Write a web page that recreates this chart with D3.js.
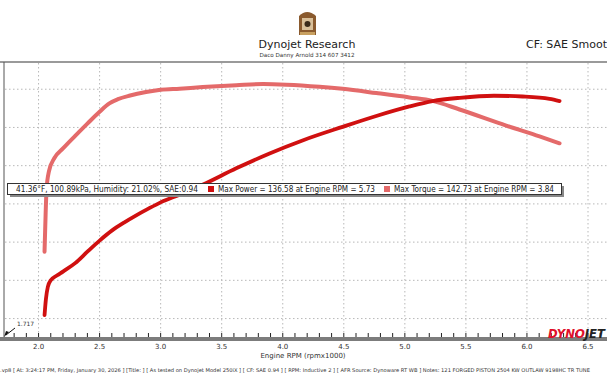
<!DOCTYPE html>
<html><head><meta charset="utf-8">
<script src="https://cdn.jsdelivr.net/npm/d3@7"></script>
<style>html,body{margin:0;padding:0;background:#fff;overflow:hidden}svg{display:block}text{font-family:Tahoma,"DejaVu Sans",sans-serif}</style>
</head><body>
<svg id="c" width="607" height="380"></svg>
<script>
// ---- data (rpm x1000) ----
const powerRpm = [2.049,2.06,2.076,2.1,2.15,2.2,2.3,2.4,2.5,2.6,2.7,2.8,2.9,3.0,3.155,3.343,3.619,3.892,4.162,4.49,4.766,5.038,5.227,5.448,5.73,5.964,6.185,6.267];
const powerHp  = [21.8,30.0,36.6,40.0,42.5,44.6,49.0,55.0,60.8,66.0,70.2,74.0,77.5,80.8,84.8,90.0,98.6,106.4,113.2,120.3,126.0,131.0,133.8,135.5,136.58,136.2,135.0,133.8];
const torqueRpm = [2.049,2.058,2.066,2.085,2.13,2.2,2.3,2.4,2.5,2.58,2.65,2.75,2.88,3.0,3.155,3.343,3.619,3.84,4.029,4.301,4.49,4.766,5.038,5.227,5.448,5.83,6.103,6.267];
const torqueFt  = [55.0,75.0,88.0,97.0,104.0,109.0,115.6,122.0,128.2,132.6,134.8,136.7,138.5,139.7,140.3,141.1,142.1,142.73,142.4,141.3,140.2,138.0,135.7,133.9,129.4,121.0,115.3,111.7];
const xTicks = [2.0,2.5,3.0,3.5,4.0,4.5,5.0,5.5,6.0,6.5];
const yGrid = [20,40,60,80,100,120,140];
const legendTexts = ["41.36°F, 100.89kPa, Humidity: 21.02%, SAE:0.94","Max Power = 136.58 at Engine RPM = 5.73","Max Torque = 142.73 at Engine RPM = 3.84"];
const footerText = ".vp8 [ At: 3:24:17 PM, Friday, January 30, 2026 ] [Title: ]  [ As tested on Dynojet Model 250iX ] [ CF: SAE 0.94 ] [ RPM: Inductive 2 ] [ AFR Source: Dynoware RT WB ] Notes: 121 FORGED PISTON 2504 KW OUTLAW 9198HC TR TUNE";

const svg = d3.select("#c");
const x = d3.scaleLinear().domain([1.717, 6.5]).range([4, 588]);
const y = d3.scaleLinear().domain([11.4, 154.4]).range([335, 61.7]);
const powerColor = "#d01010", torqueColor = "#e46a6a";

// header
const logo = svg.append("g");
logo.append("path").attr("d","M299,16 Q307,8 316,16 L316,35 L299,35 Z").attr("fill","#8a5a2e");
logo.append("rect").attr("x",302).attr("y",18).attr("width",11).attr("height",12).attr("fill","#d9c09a");
logo.append("circle").attr("cx",307.5).attr("cy",24).attr("r",3).attr("fill","#3a2a1a");
logo.append("rect").attr("x",300).attr("y",32).attr("width",15).attr("height",3).attr("fill","#c8a060");
svg.append("text").attr("x",307).attr("y",48).attr("text-anchor","middle").attr("font-size",11).attr("fill","#222").text("Dynojet Research");
svg.append("text").attr("x",307).attr("y",57).attr("text-anchor","middle").attr("font-size",5.6).attr("fill","#333").text("Daco Danny Arnold 314 607 3412");
svg.append("text").attr("x",526).attr("y",48).attr("font-size",11).attr("fill","#222").text("CF: SAE Smoothing = 5");

// grid
svg.append("g").selectAll("line").data(xTicks).join("line")
  .attr("x1",d=>x(d)).attr("x2",d=>x(d)).attr("y1",63).attr("y2",335)
  .attr("stroke","#b8b8b8").attr("stroke-width",1).attr("stroke-dasharray","1.5,2.5");
svg.append("g").selectAll("line").data(yGrid).join("line")
  .attr("x1",5).attr("x2",607).attr("y1",d=>y(d)).attr("y2",d=>y(d))
  .attr("stroke","#b8b8b8").attr("stroke-width",1).attr("stroke-dasharray","1.5,2.5");

// frame
svg.append("line").attr("x1",0).attr("x2",607).attr("y1",62).attr("y2",62).attr("stroke","#9a9a9a").attr("stroke-width",2);
svg.append("line").attr("x1",4).attr("x2",4).attr("y1",62).attr("y2",337).attr("stroke","#555").attr("stroke-width",1);

// curves
const line = d3.line().x(d=>x(d[0])).y(d=>y(d[1])).curve(d3.curveMonotoneX);
svg.append("path").datum(torqueRpm.map((r,i)=>[r,torqueFt[i]])).attr("d",line)
  .attr("fill","none").attr("stroke",torqueColor).attr("stroke-width",4).attr("stroke-linecap","round").attr("stroke-linejoin","round");
svg.append("path").datum(powerRpm.map((r,i)=>[r,powerHp[i]])).attr("d",line)
  .attr("fill","none").attr("stroke",powerColor).attr("stroke-width",3.8).attr("stroke-linecap","round").attr("stroke-linejoin","round");

// bottom axis
svg.append("rect").attr("x",0).attr("y",337).attr("width",607).attr("height",4).attr("fill","#7c7c7c");
const minor = d3.range(18, 67).map(v=>v/10);
svg.append("g").selectAll("line").data(minor).join("line")
  .attr("x1",d=>x(d)).attr("x2",d=>x(d)).attr("y1",333).attr("y2",337).attr("stroke","#222").attr("stroke-width",1);
svg.append("g").selectAll("text").data(xTicks).join("text")
  .attr("x",d=>x(d)).attr("y",349).attr("text-anchor","middle").attr("font-size",7).attr("fill","#333").text(d=>d.toFixed(1));
svg.append("text").attr("x",303).attr("y",358).attr("text-anchor","middle").attr("font-size",7).attr("fill","#333").text("Engine RPM (rpmx1000)");
svg.append("text").attr("x",0).attr("y",372).attr("font-size",5.2).attr("fill","#333")
  .attr("textLength",590).attr("lengthAdjust","spacingAndGlyphs").text(footerText);

// 1.717 marker
svg.append("text").attr("x",17).attr("y",326).attr("font-size",6).attr("fill","#333").text("1.717");
svg.append("line").attr("x1",15).attr("y1",328).attr("x2",6).attr("y2",335).attr("stroke","#111").attr("stroke-width",1);
svg.append("path").attr("d","M4,337 L9,332 L6,331 Z").attr("fill","#111");

// DYNOJET logo
const dj = svg.append("text").attr("x",548).attr("y",338).attr("font-size",11.5).attr("font-weight","bold").attr("font-style","italic")
  .attr("textLength",57).attr("lengthAdjust","spacingAndGlyphs");
dj.append("tspan").attr("fill","#e0102a").text("DYNO");
dj.append("tspan").attr("fill","#222").text("JET");

// legend box
svg.append("rect").attr("x",10).attr("y",186).attr("width",554).attr("height",11).attr("fill","#888");
svg.append("rect").attr("x",7.5).attr("y",183.5).attr("width",554).attr("height",11).attr("fill","#fff").attr("stroke","#333").attr("stroke-width",1);
svg.append("text").attr("x",16).attr("y",192).attr("font-size",8).attr("fill","#222").attr("textLength",182).attr("lengthAdjust","spacingAndGlyphs").text(legendTexts[0]);
svg.append("rect").attr("x",208).attr("y",186).attr("width",6).attr("height",6).attr("fill",powerColor);
svg.append("text").attr("x",218).attr("y",192).attr("font-size",8).attr("fill","#222").attr("textLength",157).attr("lengthAdjust","spacingAndGlyphs").text(legendTexts[1]);
svg.append("rect").attr("x",384).attr("y",186).attr("width",6).attr("height",6).attr("fill",torqueColor);
svg.append("text").attr("x",394).attr("y",192).attr("font-size",8).attr("fill","#222").attr("textLength",160).attr("lengthAdjust","spacingAndGlyphs").text(legendTexts[2]);
</script>
</body></html>
